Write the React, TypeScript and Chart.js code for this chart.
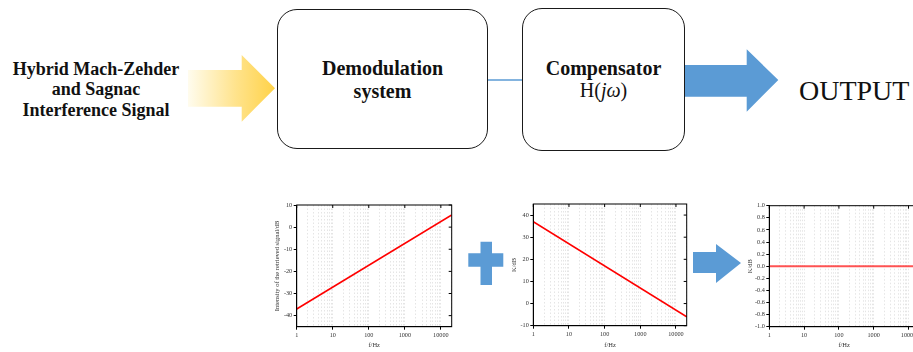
import React, { useEffect, useRef } from "react";
import { Chart, registerables } from "chart.js";

Chart.register(...registerables);

// Frequency axis (Hz) and the straight Bode lines at its two ends
const frequencyHz = [1, 20000];
const retrievedSignalDb = [-37, 5.5];
const compensatorGainDb = [37, -6];
const compensatedOutputDb = [0, 0];

// Tick labels
const decadeTicks = [1, 10, 100, 1000, 10000];
const signalTicks = [-40, -30, -20, -10, 0, 10];
const gainTicks = [-10, 0, 10, 20, 30, 40];
const outputTicks = [-1, -0.8, -0.6, -0.4, -0.2, 0, 0.2, 0.4, 0.6, 0.8, 1];

// Minor log grid positions (1..9 per decade)
const gridFreqs: number[] = decadeTicks
  .flatMap((d) => [1, 2, 3, 4, 5, 6, 7, 8, 9].map((m) => m * d))
  .filter((v) => v < frequencyHz[1])
  .concat([frequencyHz[1]]);

const SERIF = '"Liberation Serif", "Times New Roman", serif';
const BLUE = "#5B9BD5";

const framePlugin = {
  id: "frame",
  afterDraw(chart: any) {
    const { ctx, chartArea: a, scales } = chart;
    ctx.save();
    ctx.strokeStyle = "#000";
    ctx.lineWidth = 1;
    ctx.setLineDash([]);
    ctx.strokeRect(a.left, a.top, a.right - a.left, a.bottom - a.top);
    ctx.beginPath();
    decadeTicks.forEach((f) => {
      const x = scales.x.getPixelForValue(f);
      ctx.moveTo(x, a.top);
      ctx.lineTo(x, a.top + 3);
    });
    scales.y.ticks.forEach((t: any) => {
      const y = scales.y.getPixelForValue(t.value);
      ctx.moveTo(a.right, y);
      ctx.lineTo(a.right - 3, y);
    });
    ctx.stroke();
    ctx.restore();
  },
};

type PlotProps = {
  left: number;
  top: number;
  width: number;
  height: number;
  yWidth: number;
  xHeight: number;
  padTop: number;
  padRight: number;
  values: number[];
  yMin: number;
  yMax: number;
  yTicks: number[];
  yTitle: string;
  yFormat: (v: number) => string;
  lineColor: string;
  lineWidth: number;
};

function BodePlot(p: PlotProps) {
  const ref = useRef<HTMLCanvasElement>(null);
  useEffect(() => {
    const tickFont = { family: SERIF, size: 6.2 };
    const titleFont = { family: SERIF, size: 6.5 };
    const chart = new Chart(ref.current as HTMLCanvasElement, {
      type: "line",
      data: {
        datasets: [
          {
            data: frequencyHz.map((f, i) => ({ x: f, y: p.values[i] })),
            borderColor: p.lineColor,
            borderWidth: p.lineWidth,
            pointRadius: 0,
            tension: 0,
          },
        ],
      },
      options: {
        responsive: false,
        animation: false,
        devicePixelRatio: 1,
        events: [],
        layout: { padding: { top: p.padTop, right: p.padRight, left: 0, bottom: 0 } },
        plugins: { legend: { display: false }, tooltip: { enabled: false } },
        scales: {
          x: {
            type: "logarithmic",
            min: frequencyHz[0],
            max: frequencyHz[1],
            afterBuildTicks: (s: any) => {
              s.ticks = gridFreqs.map((v) => ({ value: v }));
            },
            afterFit: (s: any) => {
              s.height = p.xHeight;
            },
            ticks: {
              autoSkip: false,
              maxRotation: 0,
              minRotation: 0,
              padding: 2,
              font: tickFont,
              color: "#333",
              callback: (v: any) => (decadeTicks.includes(Number(v)) ? String(v) : ""),
            },
            grid: {
              color: "rgba(140,140,140,0.38)",
              lineWidth: 0.6,
              tickLength: 3,
              tickWidth: 1,
              tickColor: (c: any) =>
                c.tick && decadeTicks.includes(c.tick.value) ? "#000" : "rgba(0,0,0,0)",
              tickBorderDash: [],
            },
            border: { display: true, color: "#000", width: 1, dash: [1.5, 2] },
            title: {
              display: true,
              text: "f/Hz",
              font: titleFont,
              color: "#333",
              padding: { top: 1, bottom: 2.5 },
            },
          },
          y: {
            type: "linear",
            min: p.yMin,
            max: p.yMax,
            afterBuildTicks: (s: any) => {
              s.ticks = p.yTicks.map((v) => ({ value: v }));
            },
            afterFit: (s: any) => {
              s.width = p.yWidth;
            },
            ticks: {
              font: tickFont,
              color: "#333",
              padding: 1.5,
              callback: (v: any) => p.yFormat(Number(v)),
            },
            grid: { drawOnChartArea: false, tickLength: 3, tickColor: "#000" },
            border: { display: true, color: "#000", width: 1 },
            title: {
              display: true,
              text: p.yTitle,
              font: titleFont,
              color: "#333",
              padding: { top: 4, bottom: 0 },
            },
          },
        },
      } as any,
      plugins: [framePlugin],
    });
    return () => chart.destroy();
  }, []);
  return (
    <canvas
      ref={ref}
      width={p.width}
      height={p.height}
      style={{
        position: "absolute",
        left: p.left,
        top: p.top,
        width: p.width,
        height: p.height,
      }}
    />
  );
}

const boxStyle: React.CSSProperties = {
  position: "absolute",
  boxSizing: "border-box",
  border: "1.5px solid #1a1a1a",
  borderRadius: 20,
  background: "#fff",
};

const textBase: React.CSSProperties = {
  position: "absolute",
  fontFamily: SERIF,
  color: "#111",
  textAlign: "center",
  whiteSpace: "nowrap",
};

export default function App() {
  return (
    <div
      style={{
        position: "fixed",
        left: 0,
        top: 0,
        width: 913,
        height: 352,
        overflow: "hidden",
        background: "#fff",
      }}
    >
      <svg
        width={913}
        height={352}
        style={{ position: "absolute", left: 0, top: 0 }}
      >
        <defs>
          <linearGradient id="inputGlow" x1="0" y1="0" x2="1" y2="0">
            <stop offset="0" stopColor="#FFFCEE" />
            <stop offset="0.55" stopColor="#FFE38C" />
            <stop offset="1" stopColor="#FFD248" />
          </linearGradient>
        </defs>
        {/* input arrow */}
        <polygon
          points="188,70 241.7,70 241.7,55 275,88.3 241.7,121.7 241.7,106.7 188,106.7"
          fill="url(#inputGlow)"
        />
        {/* link between the two blocks */}
        <line x1={488} y1={80} x2={522} y2={80} stroke={BLUE} strokeWidth={1.5} />
        {/* output arrow */}
        <polygon
          points="685,65 746.7,65 746.7,49.3 778.3,80 746.7,111.7 746.7,96.7 685,96.7"
          fill={BLUE}
        />
        {/* plus sign between the first two plots */}
        <polygon
          points="480.5,241.7 492,241.7 492,253.3 503.3,253.3 503.3,266.7 492,266.7 492,285 480.5,285 480.5,266.7 468.3,266.7 468.3,253.3 480.5,253.3"
          fill={BLUE}
        />
        {/* arrow to the compensated response */}
        <polygon
          points="693,252 716,252 716,244 741,263 716,283 716,273 693,273"
          fill={BLUE}
        />
      </svg>

      <div style={{ ...boxStyle, left: 277, top: 9, width: 211, height: 140 }} />
      <div style={{ ...boxStyle, left: 522, top: 7.5, width: 163, height: 143 }} />

      <div
        style={{
          ...textBase,
          left: 4,
          top: 58.5,
          width: 184,
          fontWeight: 700,
          fontSize: 18,
          lineHeight: "20.8px",
        }}
      >
        Hybrid Mach-Zehder
        <br />
        and Sagnac
        <br />
        Interference Signal
      </div>

      <div
        style={{
          ...textBase,
          left: 277,
          top: 56.7,
          width: 211,
          fontWeight: 700,
          fontSize: 20,
          lineHeight: "23px",
        }}
      >
        Demodulation
        <br />
        system
      </div>

      <div
        style={{
          ...textBase,
          left: 522,
          top: 57.3,
          width: 163,
          fontSize: 20,
          lineHeight: "22px",
        }}
      >
        <span style={{ fontWeight: 700 }}>Compensator</span>
        <br />
        <span>
          H(<i>jω</i>)
        </span>
      </div>

      <div
        style={{
          ...textBase,
          left: 799,
          top: 76.5,
          textAlign: "left",
          fontSize: 28,
          lineHeight: "28px",
        }}
      >
        OUTPUT
      </div>

      <BodePlot
        left={269}
        top={198}
        width={190}
        height={154}
        yWidth={27.7}
        xHeight={25.3}
        padTop={7}
        padRight={190 - 182.7}
        values={retrievedSignalDb}
        yMin={-45}
        yMax={10}
        yTicks={signalTicks}
        yTitle="Intensity of the retrieved signal/dB"
        yFormat={(v) => String(v)}
        lineColor="#FF0000"
        lineWidth={1.6}
      />
      <BodePlot
        left={506}
        top={196}
        width={190}
        height={156}
        yWidth={27.3}
        xHeight={26.3}
        padTop={8}
        padRight={190 - 180.7}
        values={compensatorGainDb}
        yMin={-10}
        yMax={45}
        yTicks={gainTicks}
        yTitle="K/dB"
        yFormat={(v) => String(v)}
        lineColor="#FF0000"
        lineWidth={1.6}
      />
      <BodePlot
        left={742}
        top={198}
        width={182}
        height={154}
        yWidth={27.3}
        xHeight={25.3}
        padTop={7.7}
        padRight={5}
        values={compensatedOutputDb}
        yMin={-1}
        yMax={1}
        yTicks={outputTicks}
        yTitle="K/dB"
        yFormat={(v) => v.toFixed(1)}
        lineColor="rgba(255,40,40,0.8)"
        lineWidth={2}
      />
    </div>
  );
}
